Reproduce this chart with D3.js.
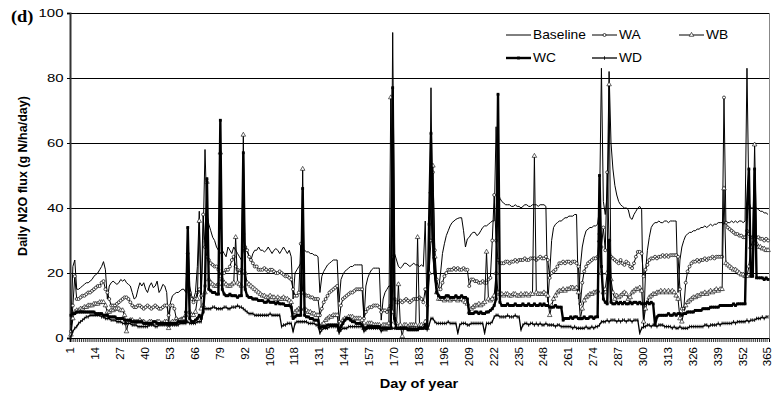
<!DOCTYPE html>
<html><head><meta charset="utf-8">
<script src="https://cdn.jsdelivr.net/npm/d3@7"></script>
<style>
body{margin:0;background:#fff;}
svg{display:block;font-family:"Liberation Sans",Arial,sans-serif;}
</style></head><body>
<svg id="chart" width="772" height="394"></svg>
<script>
const days = d3.range(1, 366);
const xTickLabels = [1,14,27,40,53,66,79,92,105,118,131,144,157,170,183,196,209,222,235,248,261,274,287,300,313,326,339,352,365];
const yTicks = [0,20,40,60,80,100];
const seriesNames = ["Baseline","WA","WB","WC","WD"];

const baseline = [4,22,24,15,15,15.5,16,16.5,17,17,
17.5,18,19,19.5,20,21,22,23.5,21,12,
16,17,17.5,17,16.5,17,18,17.5,18,17,
16.5,16,14,12,12.5,15,17,16,17,15,
14,16,17,15.5,16,17.5,14,15,16.5,16,
14,4,11,13,13.5,14,14,14.5,15,15,
14,33,16,13,12,14,22,39,12,30,
58,38,35,33,31,30,28,27,26,27,
26,25,28,27,26,28,27,26,25,24,
27,28,27,25,24,26,27,27,28,27,
27,26.5,27,28,27,26,27,27.5,27,26,
27,28,27,26,27,25,12,20,21,22,
23,27,27,26.5,26.5,26,26,25.5,25.5,25,
14,19,20.5,21.5,22.5,23,23.5,24,24,24,
11,18,19.5,20.5,21,21.5,22,22,22.5,22.5,
22.5,22.5,22.5,5.5,16,18.5,20,21,21.5,21.5,
21.5,21.5,5.5,12,14,15,16,16,94,26,
24,22,21.5,22,23,23,22.5,22,22.5,23,
22.5,22.5,22,22.5,22,36,6,20,77,25,
18,14.5,15,20,26,29,31.5,33,34.5,35.5,
36,36.5,36.8,37,37,33,28,30.5,31,32,
32.5,32.5,31.5,32,33,34,34.5,34.5,35,35.5,
36,36,65,45,43,42,41.5,41,41,41,
40.5,40.5,41,40.5,40.5,40,40.5,41,41,40.5,
40.5,41,41,41,40.5,41,41,41,40.5,11,
20,30,34,35,35.5,36,36,36.5,37,37,
37.5,37.5,37.5,38,38,12,22,28,31,33,
33.5,34,34,34.5,34.5,35,40,83,42,38,
44,82,60,52,47,44,42,41,40.5,40,
40,39.5,37,36.5,38,39,40,40.5,39.5,3,
20,27,31,34,35,35.5,35.5,36,35.5,35.5,
36,36,35.5,36,36,36,36,14,24,28,
30,31.5,32,32.5,32.5,33,33,33.5,33.5,34,
34,34.5,34,34.5,35,34.5,35,35,35.5,35.5,
35.5,35,36,35.5,35.5,36,35.5,36,35.5,36,
36,35.5,36,83,42,40,40,39.5,40,39.5,
39,39,38.5,38.5,38];

const wa = [2,10,19,12,12,12.5,13,13,13.5,14,
14,14.5,15,15.5,16,16,17,17.5,15,14,
12,10,10,10,10.5,11,11.5,12,12.5,12.5,
12,11,10,9.5,9.5,10,10,9.5,9,9.5,
10,9.5,9,9.5,10,9.5,9,9,9.5,10,
10,7,10,10,9,6,5.5,5.5,6,6,
8,26,14,12,11,12,14,15,13,38,
28,25,24,23,22.5,22,22,21,19,20,
20,21,21,22,24,25,22,21,20,21,
32,28,27,25,24,23,22,22,21,21,
21,21.5,21,20.5,21,21,20.5,20,20,20.5,
20,19.5,19,19,18.5,18,15,13,13,14,
29,14,13.5,13,13,12.5,12.5,12,12,12,
7,9,11,12,13,14,14.5,15,15.5,16,
5,10,12,12.5,13,13.5,14,14,14.5,15,
15,15,15,6,8,9,9.5,9.5,10,10,
10,9.5,8,8.5,8.5,8,9,10,25,12,
11,11,11.5,11,11.5,12,11.5,11,11.5,12,
12,12,12.5,12,11,15,10,20,30,51,
27,18,15,15,17,19,20,21,21,21,
21.5,21,21.5,21,21,21.5,21,21,16,18,
18,17.5,17.5,17,17,17.5,17,17,18,18.5,
30,44,30,24,23,23,23,23.5,23.5,23,
23.5,23.5,24,23.5,24,24,24,24.5,24,24,
24.5,24.5,24.5,24,24.5,25,24.5,24.5,25,24,
18.5,20,20.5,21,22,23,23,23.5,23,23.5,
23.5,23,23.5,23.5,23,22,10.5,17,20.5,22,
23,23.5,24,24.5,24.5,25,32,28,34,27,
51,30,25,24.5,24,23.5,23,24,23,22.5,
23.5,23,22,21.5,23,25,26.5,26.5,26,19,
21,22.5,24,24.5,24.5,25,24.5,25,25,25.5,
25,25.5,25,25.5,25.5,25.5,25.5,25,15,9,
9,17,20.5,22,23,23.5,23.5,24,23.5,24,
24,24.5,24,24.5,24.5,25,24.5,25,25,25,
25,74,35.5,34,33.5,33,32.5,32,32,31.5,
31.5,31,31,33,32,31,31,30.5,31,31,
30.5,30.5,30,30.5,30];

const wb = [1,6,8,8.5,8.5,9,9,9.5,9.5,10,
10,10,10.5,10.5,10.5,11,11,11,10,8,
8,8.5,8.5,9,9,9,8.5,8.5,7,2,
5,5.5,5.5,5,5,5,5.5,5,5,4.5,
4.5,5,5,4.5,4.5,5,5,4.5,4.5,5,
5,3,4.5,5,5,5,5,5.5,5.5,6,
7,20,8,7,7,8,12,36,9,10,
14,48,18,17,16.5,16,16,16.5,57,18,
17,16.5,16,16,16.5,17,31,17,16.5,16,
62.5,20,17,16.5,16,15.5,15,14.5,14,13.5,
13,13,12.5,12.5,13,12.5,12.5,12,12.5,12,
12,12.5,12,12,11.5,11,7,8,8.5,9,
9,52,9,8.5,8,8,7.5,7.5,7,7,
3.5,4,4.5,5.5,6,6.5,6.5,7,7,7,
2.5,4.5,5.5,6,6,6.5,6.5,6.5,6,6,
6,6,5.5,3,4,4.5,4.5,4.5,4,4,
4,4,3.5,4,4,4,4.5,74,8,5,
4.5,16.5,4,0.5,4,4,3.5,4,4,4,
4,31,4,4,3.5,5,3,20,45,53,
25,14,12,12,12,11.5,12,12,11.5,12,
12,12,11.5,12,12,11.5,11,10.5,8,9,
9.5,10,10,10.5,10,10.5,11,26.5,12,11.5,
12,13,20,14,13.5,13.5,13,13.5,13.5,13,
13,13.5,13.5,13,13,13.5,13,13.5,13.5,13,
13.5,13.5,56,14,13.5,13.5,13.5,14,13.5,13,
7,10,12,13,14,14.5,14.5,15,14.5,15,
15,15.5,15.5,15,15.5,14,6,9,11.5,12.5,
13,13.5,13.5,14,14,14.5,30,20,14,15,
20,78,18,14,12,13,12.5,13,13.5,14,
13.5,12,12.5,14,14.5,15,15,15.5,14.5,5,
9,11,12.5,13,13.5,13.5,14,14,14.5,14,
14.5,14,14.5,14,14.5,14,13,12,6,5,
8,10,11,11.5,12,12.5,12.5,13,13,13.5,
13.5,14,13.5,14,14.5,14,14.5,15,14.5,15,
15,46,23,22.5,22,21.5,21,21,20.5,20,
19.5,19.5,19,19,22,28,30,59.5,29,28,
28,27.5,27.5,27,27];

const wc = [7,7.5,7.5,8,8,8,8,8,8,8,
8,8,8,7.5,7.5,7.5,7.5,7,7,7,
6.5,6.5,6.5,6.5,6,6,6,6,5.5,5.5,
5.5,5.5,5,5,5,5,5,5,4.5,4.5,
4.5,4.5,4.5,5,5,4.5,4.5,4.5,4.5,4.5,
4.5,4.5,4.5,4.5,4.5,4.5,5,5,5,5,
5,34,6,5,5,5.5,6,7,6,8,
16,49,15,14.5,14,14,13.5,13.5,67,15,
13.5,13,13,13.5,13,13,13,12.5,13,13,
57,15,13,12.5,12.5,12,12,12,11.5,11.5,
11.5,11,11,11.5,11,11,11,10.5,11,10.5,
10.5,10.5,10,10,10,9.5,6,6.5,7,7,
7,46,7,6.5,6.5,6,6,5.5,5.5,5.5,
3,3.5,3.5,3.5,4,4,4,4,4,4,
2.5,3.5,4.5,5.5,6,6,5.5,5,5,4.5,
4.5,4.5,4,3,3,3.5,3.5,3.5,3.5,3.5,
3.5,3.5,3,3,3,3,3,3,77,6,
3,3,3,3,3,3,2.5,2.5,2.5,2.5,
2.5,2.5,3,3,3,4,3,35,63,30,
20,14,13,12.5,12.5,12.5,13,13,12.5,12.5,
12.5,13,12.5,12.5,13,12.5,12.5,12,7.5,7.5,
7.5,8,8,7.5,8,7.5,7.5,8,8,8.5,
9,10,12,75,11,10,10,10,10.5,10,
10,10,10.5,10,10,10,10.5,10,10,10.5,
10,10,10.5,10,10,10.5,10,10.5,10,10,
9.5,9.5,9.5,10,9.5,9.5,9.5,5.5,6,6,
6,6.5,6,6.5,6.5,6,6,6,6.5,6,
6,6.5,6.5,6,6.5,6.5,50,22,12,11,
10.5,30,11,10.5,10.5,11,10.5,11,10.5,11,
10.5,10.5,11,10.5,11,11,10.5,11,10.5,10.5,
10.5,11,10.5,11,10.5,4,6.5,7,7,7,
7,7,7.5,7,7,7.5,7,7.5,7.5,7,
7.5,7.5,8,8,8,8,8.5,8.5,8.5,8.5,
9,9,9,9,9.5,9.5,9.5,9.5,9.5,10,
10,10,10,10,10,10,10.5,10,10.5,10.5,
10.5,10.5,10.5,40,52,19,19,52,18.5,18.5,
18.5,18.5,18,18.5,18];

const wd = [0.5,2,3,3.5,4.5,5,5.5,6,6.5,6.5,
7,7,7,7,7,7,6.5,6.5,6,6,
6,5.5,5.5,5.5,5,5,5,4.5,4.5,4.5,
4.5,4.5,4,4,4,3.5,3.5,3.5,3.5,3.5,
3.5,4,4,4,3.5,3.5,4,4,4,4,
4,4,4,4,4,4,4,4.5,4.5,4.5,
4.5,5,4.5,4.5,4.5,4.5,5,5,5,9,
9,9,9,9,9.5,9.5,9,9,9,9,
9.5,9.5,9,9,9.5,9.5,9.5,10,9.5,9.5,
9,8.5,8,7.5,7.5,7.5,7,7,7,7,
7,7,7,7,7.5,7,7,7,7,7,
3.5,4,4,4.5,4.5,4.5,2,4.5,5,5,
5,5,5,5,4.5,4.5,4.5,4.5,4,4,
1.5,2.5,3,3,3,3.5,3.5,3.5,3.5,3.5,
1.5,2.5,3,3,3,3.5,3.5,3.5,3.5,3.5,
3.5,3.5,3.5,2,2.5,3,3,3,3,3,
3,3,2,2.5,2.5,2.5,3,3,3,3,
3,3,3,3,3,3,3,3,3,3,
3,3,3,3,3,3,2.5,4,6,6,
5,4.5,4.5,4.5,4.5,4.5,4.5,5,4.5,4.5,
4.5,4.5,1.5,4,4.5,4.5,4.5,4,4,4.5,
4.5,4.5,4.5,4.5,4.5,4.5,1.5,4.5,4.5,4.5,
5,6.5,7,7,6.5,6.5,6.5,6.5,7,6.5,
6.5,6.5,7,6.5,6.5,2.5,4,4.5,4.5,4,
4.5,4.5,4,4.5,4,4.5,4,4,4.5,4,
4,4,4,3.5,4,4,3.5,3.5,3.5,3.5,
3.5,3.5,3,3.5,3,3,3,3,3,3.5,
3,3,3.5,3,3.5,3.5,4,5,5,5,
5.5,5,5.5,5.5,5.5,5,5.5,5,5.5,5.5,
5,5.5,5.5,5,5.5,5.5,5.5,1.5,3,3.5,
3.5,4,4,3.5,4,4,3.5,4,4,4,
3.5,3.5,3.5,3.5,3,3.5,3,3,3.5,3,
3,3,3,3.5,3.5,3.5,3.5,3.5,3.5,3.5,
3.5,4,4,3.5,4,4,4,4,4.5,4,
4.5,4.5,4.5,4.5,4.5,4.5,5,4.5,5,5,
5,5,5,5.5,5,5.5,5.5,5.5,6,6,
6,6.5,6,6.5,6.5];

const svg = d3.select("#chart");
const L = 70, R = 769, T = 13, B = 338;
const x = d3.scaleBand().domain(days).range([L, R]).padding(0);
const y = d3.scaleLinear().domain([0, 100]).range([B, T]);
const cx = d => x(d) + x.bandwidth() / 2;

// grid
svg.append("g").selectAll("line").data(yTicks.filter(v => v > 0)).join("line")
  .attr("x1", L).attr("x2", R).attr("y1", d => y(d)).attr("y2", d => y(d))
  .attr("stroke", "#000").attr("stroke-width", 1).attr("shape-rendering", "crispEdges");
svg.append("line").attr("x1", R).attr("x2", R).attr("y1", T).attr("y2", B)
  .attr("stroke", "#888").attr("stroke-width", 1).attr("shape-rendering", "crispEdges");

// y axis
const yAx = svg.append("g").attr("transform", `translate(${L},0)`)
  .call(d3.axisLeft(y).tickValues(yTicks).tickSize(3).tickPadding(4));
yAx.select(".domain").attr("stroke", "#333").attr("stroke-width", 2);
yAx.selectAll(".tick line").attr("stroke", "#000");
yAx.selectAll("text").attr("font-size", 11.5).attr("fill", "#000")
  .attr("font-family", "Liberation Sans, Arial, sans-serif")
  .attr("x", -5).attr("transform", "scale(1.3,1)");

// x axis ticks (every category boundary)
const xTickAx = svg.append("g").attr("transform", `translate(0,${B})`)
  .call(d3.axisBottom(x).tickValues(days).tickSize(4).tickFormat(""));
xTickAx.select(".domain").attr("stroke", "#000");
xTickAx.selectAll(".tick line").attr("stroke", "#000").attr("stroke-width", 0.8)
  .attr("transform", `translate(${-x.bandwidth()/2},0)`);
const xLab = svg.append("g").attr("transform", `translate(0,${B})`)
  .call(d3.axisBottom(x).tickValues(xTickLabels).tickSize(0));
xLab.select(".domain").remove();
xLab.selectAll("text").attr("font-size", 11.5).attr("fill", "#000")
  .attr("font-family", "Liberation Sans, Arial, sans-serif")
  .attr("y", 0).attr("x", -9).attr("dy", "0.3em")
  .attr("text-anchor", "end").attr("transform", "rotate(-90)");

// series
const line = d3.line().x((d, i) => cx(days[i])).y(d => y(d));
const S = [
  {name: "Baseline", data: baseline, w: 1, marker: null},
  {name: "WA", data: wa, w: 1, marker: "circle"},
  {name: "WB", data: wb, w: 1, marker: "triangle"},
  {name: "WC", data: wc, w: 2.4, marker: "square"},
  {name: "WD", data: wd, w: 1.3, marker: "tick"}
];
const tri = d3.symbol(d3.symbolTriangle).size(9)();
function drawMarker(sel, type) {
  if (type === "circle") sel.append("circle").attr("r", 1.5).attr("fill", "#fff").attr("stroke", "#000").attr("stroke-width", 0.7);
  else if (type === "triangle") sel.append("path").attr("d", tri).attr("fill", "#fff").attr("stroke", "#000").attr("stroke-width", 0.6);
  else if (type === "square") sel.append("rect").attr("x", -1.4).attr("y", -1.4).attr("width", 2.8).attr("height", 2.8).attr("fill", "#000");
  else if (type === "tick") sel.append("line").attr("x1", 0).attr("x2", 0).attr("y1", -1.8).attr("y2", 1.8).attr("stroke", "#000").attr("stroke-width", 0.8);
}
S.forEach(s => {
  const g = svg.append("g");
  g.append("path").datum(s.data).attr("d", line).attr("fill", "none")
    .attr("stroke", "#000").attr("stroke-width", s.w).attr("stroke-linejoin", "round");
  if (s.marker) {
    g.selectAll("g.m").data(s.data).join("g").attr("class", "m")
      .attr("transform", (d, i) => `translate(${cx(days[i])},${y(d)})`)
      .each(function () { drawMarker(d3.select(this), s.marker); });
  }
});

// legend
const legendPos = [
  {lx: 506, ty: 35}, {lx: 592, ty: 35}, {lx: 679, ty: 35},
  {lx: 506, ty: 58}, {lx: 592, ty: 58}
];
S.forEach((s, i) => {
  const p = legendPos[i];
  const g = svg.append("g").attr("transform", `translate(${p.lx},${p.ty})`);
  g.append("line").attr("x1", 0).attr("x2", 25).attr("y1", 0).attr("y2", 0)
    .attr("stroke", "#000").attr("stroke-width", s.w);
  if (s.marker) drawMarker(g.append("g").attr("transform", "translate(12.5,0)"), s.marker);
  g.append("text").attr("x", 27 / 1.15).attr("y", 0).attr("dy", "0.36em")
    .attr("font-size", 12).attr("transform", "scale(1.15,1)").text(s.name);
});

// titles
svg.append("text").attr("transform", "translate(27,176) rotate(-90)")
  .attr("text-anchor", "middle").attr("font-weight", "bold").attr("font-size", 12.5)
  .text("Daily N2O flux (g N/ha/day)");
svg.append("text").attr("transform", "translate(419,388) scale(1.12,1)")
  .attr("text-anchor", "middle").attr("font-weight", "bold").attr("font-size", 13)
  .text("Day of year");
svg.append("text").attr("transform", "translate(11,22) scale(1.15,1)")
  .attr("font-family", "Liberation Serif, Times New Roman, serif")
  .attr("font-weight", "bold").attr("font-size", 16).text("(d)");
</script></body></html>
